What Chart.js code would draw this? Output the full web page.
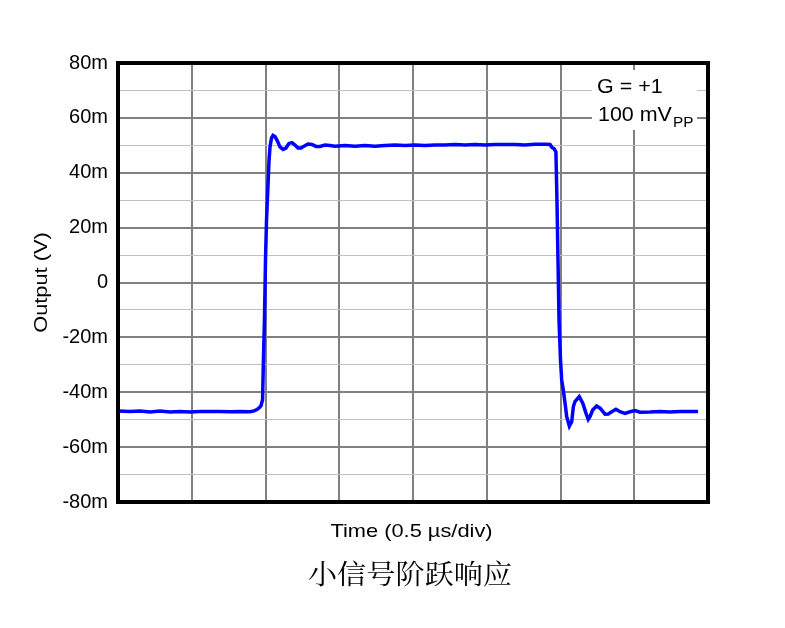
<!DOCTYPE html>
<html>
<head>
<meta charset="utf-8">
<script src="https://cdn.jsdelivr.net/npm/chart.js@4.4.0/dist/chart.umd.min.js"></script>
<style>
  html, body { margin: 0; padding: 0; background: #ffffff; }
  canvas { display: block; }
</style>
</head>
<body>
<canvas id="c" width="785" height="628"></canvas>
<script>
// ---- Data (time in µs, output in mV) ----
const timeUs = [
  0.000, 0.081, 0.149, 0.217, 0.285, 0.353, 0.420, 0.488, 0.556, 0.624,
  0.692, 0.759, 0.827, 0.895, 0.922, 0.942, 0.956, 0.969, 0.980, 0.986,
  0.993, 1.000, 1.007, 1.017, 1.024, 1.031, 1.041, 1.051, 1.064, 1.078,
  1.098, 1.119, 1.139, 1.159, 1.180, 1.200, 1.220, 1.241, 1.261, 1.288,
  1.315, 1.342, 1.369, 1.403, 1.437, 1.471, 1.539, 1.607, 1.675, 1.742,
  1.810, 1.878, 1.946, 2.014, 2.081, 2.149, 2.217, 2.285, 2.353, 2.420,
  2.488, 2.556, 2.624, 2.692, 2.759, 2.827, 2.895, 2.929, 2.942, 2.956,
  2.969, 2.976, 2.983, 2.990, 3.000, 3.008, 3.019, 3.031, 3.042, 3.060,
  3.076, 3.087, 3.098, 3.127, 3.151, 3.173, 3.188, 3.200, 3.218, 3.245,
  3.268, 3.302, 3.324, 3.347, 3.376, 3.403, 3.437, 3.471, 3.505, 3.539,
  3.607, 3.675, 3.742, 3.810, 3.878, 3.932
];
const outputMv = [
  -46.8, -47.0, -46.8, -47.2, -46.8, -47.2, -47.0, -47.2, -47.0, -47.0,
  -47.0, -47.1, -47.0, -47.1, -46.8, -46.3, -45.7, -45.0, -42.8, -28.2,
  -13.7, 8.2, 22.8, 35.5, 44.6, 49.7, 52.7, 53.6, 53.2, 51.9,
  49.4, 48.5, 49.0, 50.7, 51.0, 50.1, 49.0, 49.0, 49.7, 50.5,
  50.3, 49.6, 49.6, 50.1, 49.9, 49.7, 49.9, 49.7, 49.9, 49.7,
  49.9, 50.1, 49.9, 50.1, 49.9, 50.1, 50.1, 50.3, 50.1, 50.3,
  50.1, 50.3, 50.3, 50.3, 50.1, 50.4, 50.4, 50.3, 49.2, 48.8,
  47.6, 30.1, 8.2, -13.7, -28.2, -35.5, -39.2, -44.0, -48.9, -52.3,
  -50.7, -45.3, -43.4, -41.6, -44.0, -47.7, -49.9, -48.9, -46.5, -45.0,
  -45.8, -48.0, -47.9, -47.1, -46.2, -47.1, -47.7, -47.1, -46.7, -47.3,
  -47.2, -47.0, -47.2, -47.0, -47.0, -47.0
];
const yTickValues = [80, 60, 40, 20, 0, -20, -40, -60, -80];
const yTickLabels = ['80m', '60m', '40m', '20m', '0', '-20m', '-40m', '-60m', '-80m'];
const xTitle = 'Time (0.5 µs/div)';
const yTitle = 'Output (V)';
const caption = '小信号阶跃响应';
const noteLine1 = 'G = +1';
const noteLine2 = '100 mV';
const noteSub = 'PP';

const points = timeUs.map((t, i) => ({ x: t, y: outputMv[i] }));

const textPlugin = {
  id: 'texts',
  afterDraw(chart) {
    const ctx = chart.ctx;
    const a = chart.chartArea;
    // frame
    ctx.save();
    ctx.strokeStyle = '#000000';
    ctx.lineWidth = 4;
    ctx.strokeRect(a.left, a.top, a.right - a.left, a.bottom - a.top);
    ctx.restore();

    // annotation box
    ctx.save();
    ctx.fillStyle = '#ffffff';
    ctx.fillRect(592, 70, 105, 60);
    ctx.fillStyle = '#000000';
    ctx.textBaseline = 'alphabetic';
    ctx.textAlign = 'left';
    ctx.font = '19.5px "Liberation Sans", Arial, sans-serif';
    ctx.save(); ctx.translate(597, 93); ctx.scale(1.1, 1); ctx.fillText(noteLine1, 0, 0); ctx.restore();
    ctx.save(); ctx.translate(598, 121); ctx.scale(1.1, 1); ctx.fillText(noteLine2, 0, 0); ctx.restore();
    ctx.font = '14px "Liberation Sans", Arial, sans-serif';
    ctx.save(); ctx.translate(673, 127); ctx.scale(1.1, 1); ctx.fillText(noteSub, 0, 0); ctx.restore();
    ctx.restore();

    // axis titles
    ctx.save();
    ctx.fillStyle = '#000000';
    ctx.font = '18.5px "Liberation Sans", Arial, sans-serif';
    ctx.textAlign = 'center';
    ctx.textBaseline = 'alphabetic';
    ctx.save(); ctx.translate(411.5, 536.5); ctx.scale(1.18, 1); ctx.fillText(xTitle, 0, 0); ctx.restore();
    ctx.save(); ctx.translate(47, 282.5); ctx.rotate(-Math.PI / 2); ctx.scale(1.18, 1); ctx.fillText(yTitle, 0, 0); ctx.restore();
    ctx.font = '27px "Noto Serif CJK SC", "Noto Sans CJK SC", serif';
    ctx.save(); ctx.translate(410, 584); ctx.scale(1.08, 1); ctx.fillText(caption, 0, 0); ctx.restore();
    ctx.restore();
  }
};

new Chart(document.getElementById('c'), {
  type: 'line',
  data: {
    datasets: [{
      data: points,
      borderColor: '#0000ff',
      borderWidth: 3.5,
      pointRadius: 0,
      tension: 0,
      fill: false
    }]
  },
  options: {
    responsive: false,
    animation: false,
    devicePixelRatio: 1,
    layout: { padding: { left: 0, top: 63, right: 77, bottom: 0 } },
    plugins: { legend: { display: false }, tooltip: { enabled: false } },
    scales: {
      x: {
        type: 'linear',
        min: 0,
        max: 4,
        ticks: { display: false, stepSize: 0.5 },
        grid: { color: '#808080', lineWidth: 2, drawTicks: false },
        border: { display: false },
        afterFit(scale) { scale.height = 126; }
      },
      y: {
        type: 'linear',
        min: -80,
        max: 80,
        ticks: {
          stepSize: 10,
          autoSkip: false,
          padding: 10,
          color: '#000000',
          font: { family: '"Liberation Sans", Arial, sans-serif', size: 20 },
          callback(v) {
            const i = yTickValues.indexOf(v);
            return i >= 0 ? yTickLabels[i] : '';
          }
        },
        grid: {
          drawTicks: false,
          color: (c) => (c.tick && c.tick.value % 20 === 0) ? '#808080' : '#c0c0c0',
          lineWidth: (c) => (c.tick && c.tick.value % 20 === 0) ? 2 : 1
        },
        border: { display: false },
        afterFit(scale) { scale.width = 118; }
      }
    }
  },
  plugins: [textPlugin]
});
</script>
</body>
</html>
